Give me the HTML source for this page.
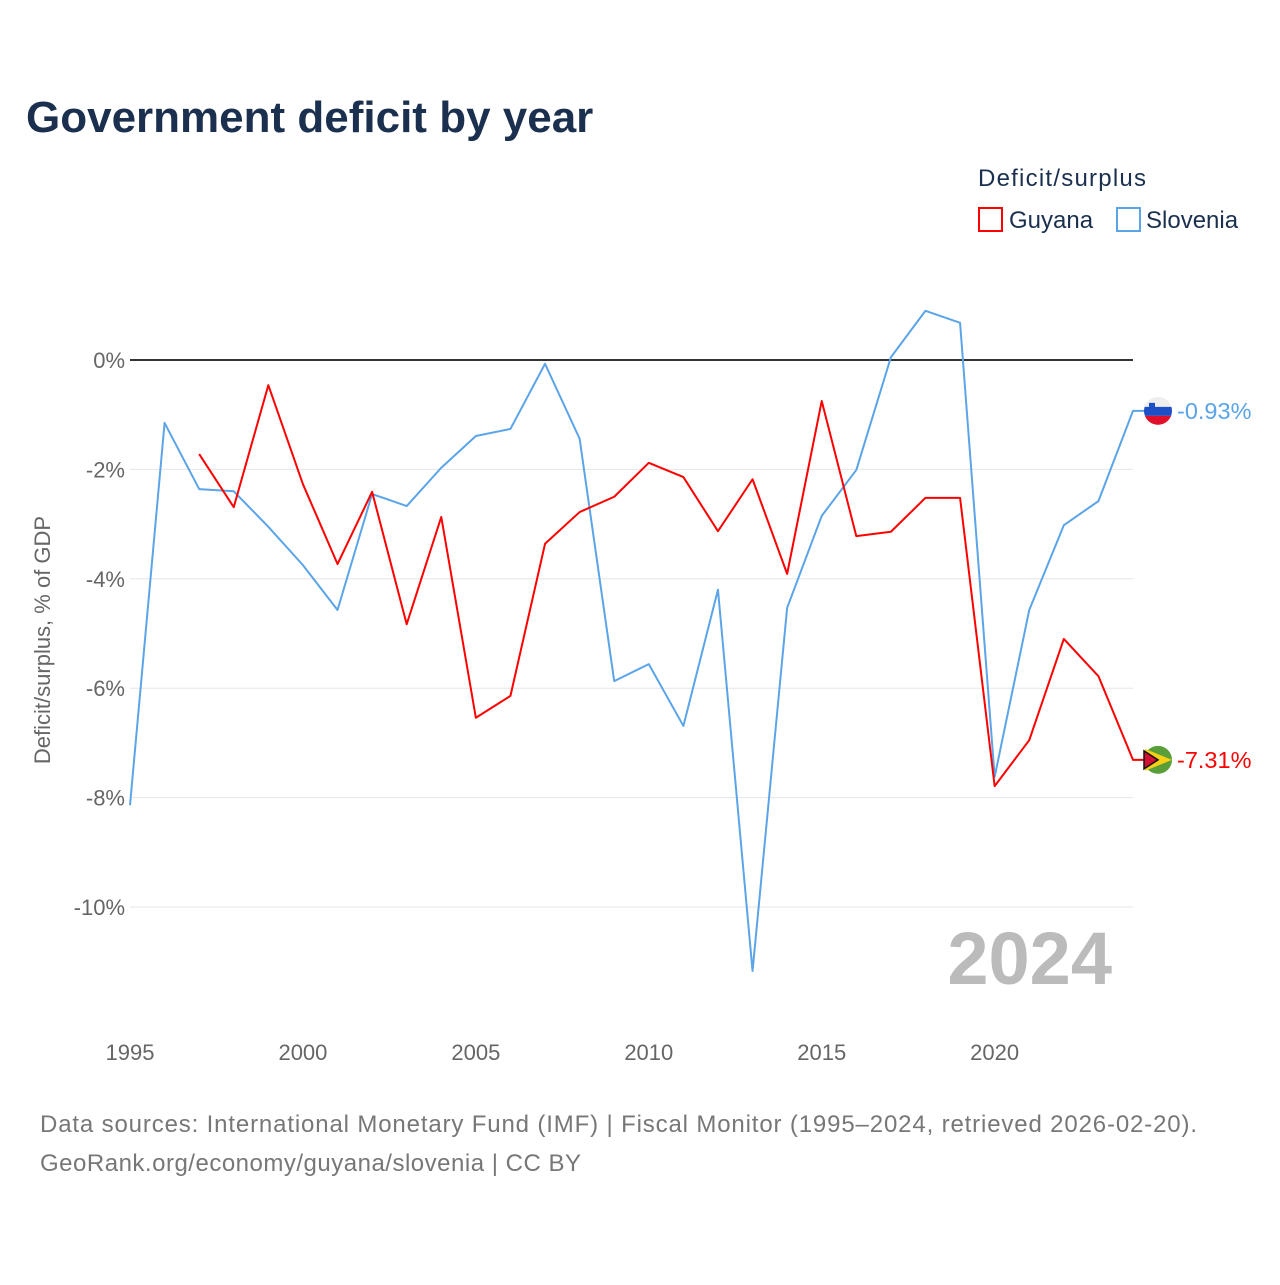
<!DOCTYPE html>
<html><head><meta charset="utf-8"><style>
body{margin:0;background:#fff;font-family:"Liberation Sans",sans-serif;}
</style></head><body>
<svg width="1280" height="1280" xmlns="http://www.w3.org/2000/svg" style="font-family:'Liberation Sans',sans-serif">
<text x="26" y="132" font-size="44" font-weight="bold" fill="#1b2f4e">Government deficit by year</text>
<text x="978" y="186" font-size="24" fill="#1b2f4e" textLength="168">Deficit/surplus</text>
<g><rect x="979" y="208" width="23" height="23" fill="none" stroke="#f00" stroke-width="2"/><text x="1009" y="228" font-size="24" fill="#1b2f4e">Guyana</text></g>
<g><rect x="1117" y="208" width="23" height="23" fill="none" stroke="#5ba4e8" stroke-width="2"/><text x="1146" y="228" font-size="24" fill="#1b2f4e">Slovenia</text></g>
<g id="grid"></g><g id="series"></g>
<text transform="translate(50,640) rotate(-90)" text-anchor="middle" font-size="22" fill="#666">Deficit/surplus, % of GDP</text>
<text x="1112" y="984" text-anchor="end" font-size="74" font-weight="bold" fill="#bbb">2024</text>
<text x="40" y="1132" font-size="24" fill="#777" textLength="1157">Data sources: International Monetary Fund (IMF) | Fiscal Monitor (1995–2024, retrieved 2026-02-20).</text>
<text x="40" y="1171" font-size="24" fill="#777" textLength="541">GeoRank.org/economy/guyana/slovenia | CC BY</text>
</svg>
<script>
const years=[1995,1996,1997,1998,1999,2000,2001,2002,2003,2004,2005,2006,2007,2008,2009,2010,2011,2012,2013,2014,2015,2016,2017,2018,2019,2020,2021,2022,2023,2024];
const slovenia=[-8.14,-1.15,-2.36,-2.4,-3.05,-3.75,-4.57,-2.45,-2.67,-1.97,-1.39,-1.26,-0.07,-1.44,-5.87,-5.56,-6.69,-4.2,-11.17,-4.53,-2.85,-2.01,0.05,0.9,0.68,-7.62,-4.57,-3.02,-2.58,-0.93];
const guyana=[null,null,-1.72,-2.69,-0.46,-2.27,-3.73,-2.41,-4.83,-2.87,-6.54,-6.14,-3.36,-2.78,-2.5,-1.88,-2.14,-3.13,-2.18,-3.91,-0.75,-3.22,-3.14,-2.52,-2.52,-7.79,-6.95,-5.1,-5.78,-7.31];
const yTicks=[0,-2,-4,-6,-8,-10];
const xTicks=[1995,2000,2005,2010,2015,2020];
const NS="http://www.w3.org/2000/svg";
const X=y=>130+(y-1995)*(1133-130)/29;
const Y=v=>360-v*54.7;
function mk(t,a,p){const e=document.createElementNS(NS,t);for(const k in a)e.setAttribute(k,a[k]);p.appendChild(e);return e;}
const g=document.getElementById('grid');
yTicks.forEach(v=>{
 const l=mk('line',{x1:130,x2:1133,y1:Y(v),y2:Y(v),stroke:v===0?'#333':'#e6e6e6','stroke-width':v===0?2:1},g);
 
 
 const t=mk('text',{x:125,y:Y(v)+8,'text-anchor':'end','font-size':22,fill:'#666'},g);t.textContent=v+'%';
 
 
});
xTicks.forEach(v=>{
 const t=mk('text',{x:X(v),y:1060,'text-anchor':'middle','font-size':22,fill:'#666'},g);t.textContent=v;
 
 
});
const s=document.getElementById('series');
function line(vals,col,name){
 let d='';vals.forEach((v,i)=>{if(v==null)return;d+=(d?'L':'M')+X(years[i])+','+Y(v);});
 const last=vals[vals.length-1];d+='L1146,'+Y(last);
 const p=mk('path',{d:d,fill:'none',stroke:col,'stroke-width':2,'stroke-linejoin':'round'},s);
 
 
 const t=mk('text',{x:1177,y:Y(last)+8,'font-size':23.5,fill:col},s);t.textContent=last.toFixed(2)+'%';
 
 
 return Y(last);
}
const ys=line(slovenia,'#5ba4e8','slovenia');
const yg=line(guyana,'#f00','guyana');
let f=mk('g',{},s);


mk('clipPath',{id:'cs'},f).appendChild(document.createElementNS(NS,'circle'));
const cs=f.querySelector('#cs circle');cs.setAttribute('cx',1158);cs.setAttribute('cy',ys);cs.setAttribute('r',14);
mk('rect',{x:1144,y:ys-14,width:28,height:10,fill:'#eee','clip-path':'url(#cs)'},f);
mk('rect',{x:1144,y:ys-4,width:28,height:9,fill:'#1e4fc4','clip-path':'url(#cs)'},f);
mk('rect',{x:1144,y:ys+5,width:28,height:10,fill:'#e0102a','clip-path':'url(#cs)'},f);
mk('rect',{x:1149,y:ys-8,width:6,height:7,fill:'#1e4fc4'},f);
f=mk('g',{},s);


mk('circle',{cx:1158,cy:yg,r:14,fill:'#5a9e3a'},f);
mk('path',{d:`M1145,${yg-11}L1172,${yg}L1145,${yg+11}Z`,fill:'#f7d117'},f);
mk('path',{d:`M1144,${yg-9}L1158,${yg}L1144,${yg+9}Z`,fill:'#d21034',stroke:'#111','stroke-width':1.5},f);
</script>
</body></html>
